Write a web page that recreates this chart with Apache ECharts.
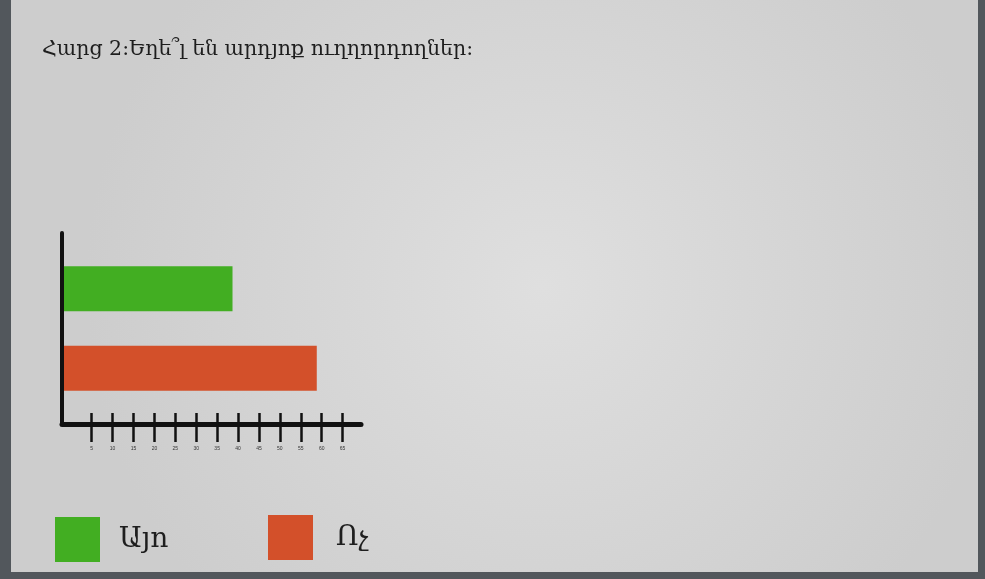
<!DOCTYPE html>
<html>
<head>
<meta charset="utf-8">
<script src="https://cdn.jsdelivr.net/npm/echarts@6/dist/echarts.min.js"></script>
<style>
  html, body { margin: 0; padding: 0; width: 985px; height: 579px; background: #52575c; overflow: hidden; }
  #main { position: absolute; left: 11px; top: 0; width: 967px; height: 572px; }
</style>
</head>
<body>
<div id="main"></div>
<script>
var categories = ['Այո', 'Ոչ'];
var values = [40, 60];
var tickValues = [5, 10, 15, 20, 25, 30, 35, 40, 45, 50, 55, 60, 65];
var colors = ['#42ae22', '#d3502a'];
var titleText = 'Հարց 2:Եղե՞լ են արդյոք ուղղորդողներ:';

var chartDom = document.getElementById('main');
var myChart = echarts.init(chartDom);
var option;

var serif = '"DejaVu Serif", "DejaVu Sans", serif';

// one series per answer so each one gets its own legend swatch
var series = categories.map(function (name, i) {
  return {
    name: name,
    type: 'bar',
    xAxisIndex: 2,
    yAxisIndex: 1,
    barWidth: 45,
    barGap: '-100%',
    itemStyle: { color: colors[i] },
    data: categories.map(function (c, j) { return j === i ? values[i] : '-'; })
  };
});

option = {
  backgroundColor: {
    type: 'radial', x: 0.55, y: 0.5, r: 0.8,
    colorStops: [
      { offset: 0, color: '#dfdfdf' },
      { offset: 1, color: '#cdcdcd' }
    ]
  },
  animation: false,
  title: {
    text: titleText,
    left: 26,
    top: 34,
    textStyle: { fontFamily: serif, fontSize: 20.5, fontWeight: 'normal', color: '#1e1e1e' }
  },
  legend: [
    {
      data: [categories[0]],
      left: 39, top: 512,
      itemWidth: 45, itemHeight: 45,
      icon: 'rect',
      textStyle: { fontFamily: serif, fontSize: 28, color: '#1e1e1e', padding: [0, 0, 0, 14] }
    },
    {
      data: [categories[1]],
      left: 252, top: 510,
      itemWidth: 45, itemHeight: 45,
      icon: 'rect',
      textStyle: { fontFamily: serif, fontSize: 28, color: '#1e1e1e', padding: [0, 0, 0, 18] }
    }
  ],
  grid: [
    // axes frame with the hand-drawn tick scale
    { left: 51, right: 617, top: 233, bottom: 148 },
    // bars
    { left: 53, right: 617, top: 249, bottom: 164 }
  ],
  xAxis: [
    {
      type: 'value', gridIndex: 0, min: -2.1, max: 69.4, position: 'bottom',
      splitLine: { show: false },
      axisLine: { show: true, onZero: false, lineStyle: { color: '#111', width: 5 } },
      axisTick: { show: true, customValues: tickValues, length: 18, lineStyle: { color: '#111', width: 2.5 } },
      axisLabel: { show: true, customValues: tickValues, margin: 22, fontSize: 5, color: '#333' }
    },
    {
      type: 'value', gridIndex: 0, min: -2.1, max: 69.4, position: 'bottom',
      splitLine: { show: false },
      axisLine: { show: false, onZero: false },
      axisTick: { show: true, inside: true, customValues: tickValues, length: 11, lineStyle: { color: '#111', width: 2.5 } },
      axisLabel: { show: false }
    },
    {
      type: 'value', gridIndex: 1, min: 0, max: 70.5, show: false
    }
  ],
  yAxis: [
    {
      type: 'value', gridIndex: 0, position: 'left',
      splitLine: { show: false },
      axisLine: { show: true, onZero: false, lineStyle: { color: '#111', width: 4 } },
      axisTick: { show: false },
      axisLabel: { show: false }
    },
    {
      type: 'category', gridIndex: 1, data: categories, inverse: true, show: false
    }
  ],
  series: series
};

option && myChart.setOption(option);
</script>
</body>
</html>
